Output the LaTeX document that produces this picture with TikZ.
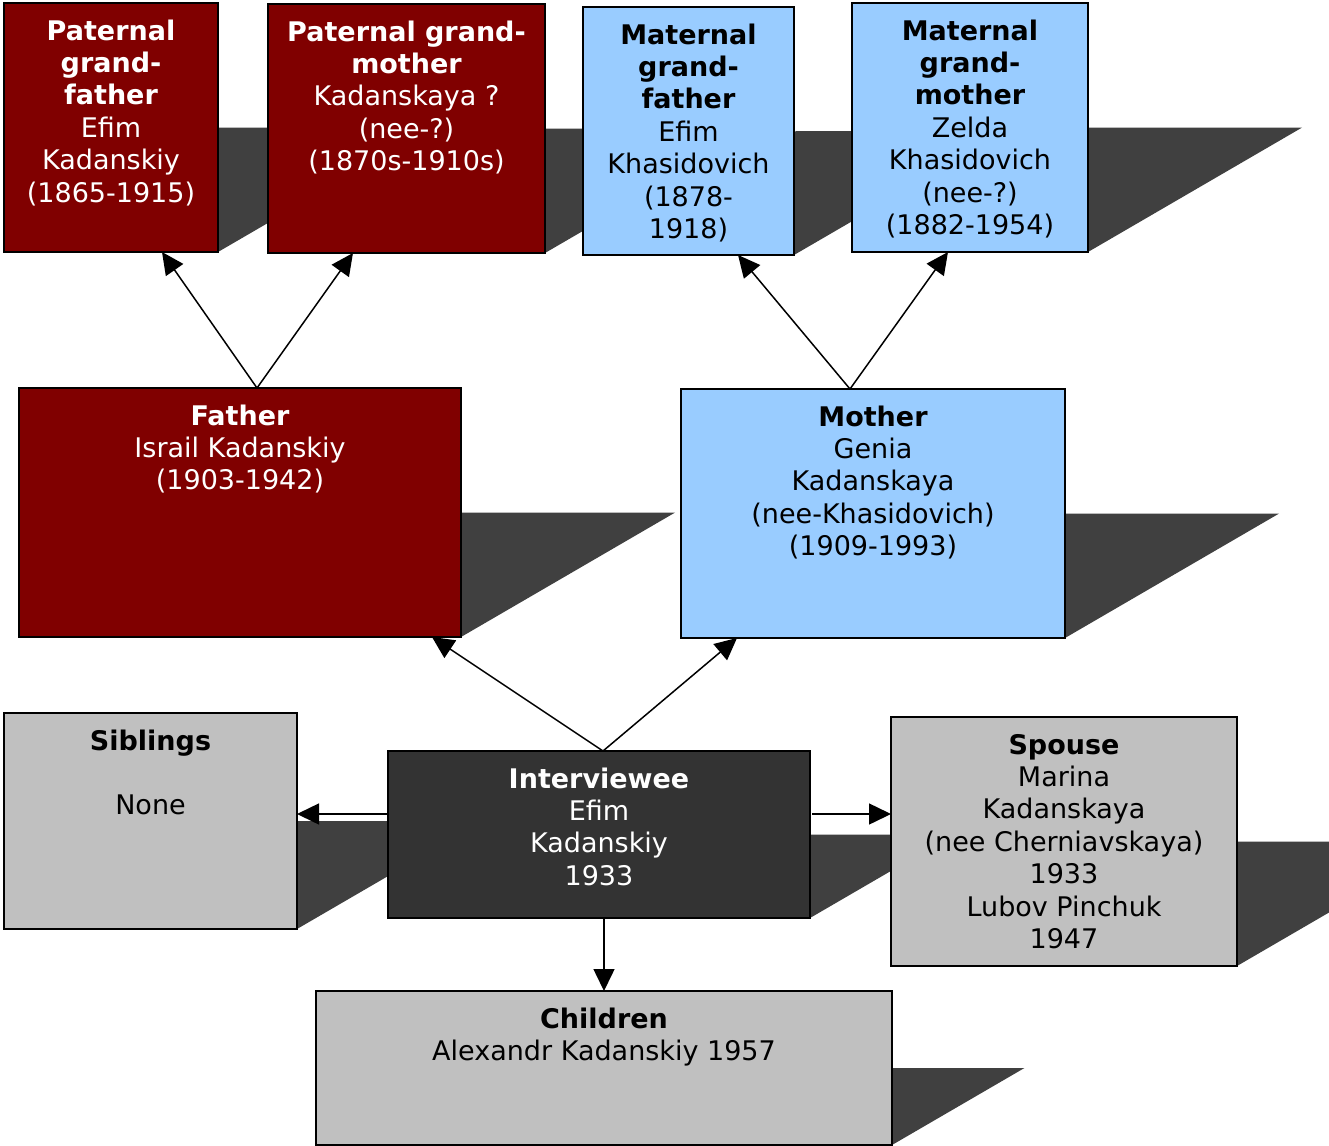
\documentclass[tikz,border=0pt]{standalone}
\usepackage{fontspec}
\setmainfont{DejaVu Sans}
\usetikzlibrary{arrows.meta,backgrounds,calc}
\definecolor{maroonc}{HTML}{800000}
\definecolor{bluec}{HTML}{99CCFF}
\definecolor{grayc}{HTML}{C0C0C0}
\definecolor{darkc}{HTML}{333333}
\definecolor{shadowc}{HTML}{404040}
\tikzset{
  boxst/.style={draw=black, line width=0.75pt, anchor=north west, inner sep=0pt, outer sep=0pt},
  patbox/.style={boxst, fill=maroonc},
  matbox/.style={boxst, fill=bluec},
  grybox/.style={boxst, fill=grayc},
  drkbox/.style={boxst, fill=darkc},
  txt/.style={anchor=north, inner sep=0pt, align=center, font=\fontsize{13.5}{16.2}\selectfont},
  wtxt/.style={txt, text=white},
  arr/.style={line width=0.75pt, -{Triangle[length=11pt,width=10.5pt]}},
  shd/.style={fill=shadowc, draw=none}
}
\newcommand\shadowof[1]{%
  \path[shd] let \p1=(#1.south west), \p2=(#1.north east), \n1={0.86*(\y2-\y1)} in
    (\x1,\y1) -- (\x2,\y1) -- (\x2+\n1,{(\y1+\y2)/2}) -- (\x1+\n1,{(\y1+\y2)/2}) -- cycle;}
\begin{document}
\begin{tikzpicture}[x=0.5pt,y=-0.5pt]
\useasboundingbox (0,0) rectangle (1329,1146);
% boxes
\node[patbox, minimum width=107pt, minimum height=124.5pt] (pgf) at (4,3) {};
\node[patbox, minimum width=138.5pt, minimum height=124.5pt] (pgm) at (268,4) {};
\node[matbox, minimum width=105.5pt, minimum height=124pt] (mgf) at (583,7) {};
\node[matbox, minimum width=118pt, minimum height=124.5pt] (mgm) at (852,3) {};
\node[patbox, minimum width=221pt, minimum height=124.5pt] (father) at (19,388) {};
\node[matbox, minimum width=192pt, minimum height=124.5pt] (mother) at (681,389) {};
\node[grybox, minimum width=146.5pt, minimum height=108pt] (sib) at (4,713) {};
\node[drkbox, minimum width=211pt, minimum height=83.5pt] (intv) at (388,751) {};
\node[grybox, minimum width=173pt, minimum height=124.5pt] (spouse) at (891,717) {};
\node[grybox, minimum width=288pt, minimum height=77pt] (child) at (316,991) {};
% shadows
\begin{scope}[on background layer]
\fill[white] (0,0) rectangle (1329,1146);
\clip (0,0) rectangle (1329,1146);
\shadowof{pgf}\shadowof{pgm}\shadowof{mgf}\shadowof{mgm}
\shadowof{father}\shadowof{mother}
\shadowof{sib}\shadowof{intv}\shadowof{spouse}\shadowof{child}
\end{scope}
% texts
\node[wtxt] (pgf-t) at ($(pgf.north)+(0,14)$) {\strut\textbf{Paternal}\\\textbf{grand-}\\\textbf{father}\\Efim\\Kadanskiy\\(1865-1915)};
\node[wtxt] (pgm-t) at ($(pgm.north)+(0,14)$) {\strut\textbf{Paternal grand-}\\\textbf{mother}\\Kadanskaya ?\\(nee-?)\\(1870s-1910s)};
\node[txt] (mgf-t) at ($(mgf.north)+(0,14)$) {\strut\textbf{Maternal}\\\textbf{grand-}\\\textbf{father}\\Efim\\Khasidovich\\(1878-\\1918)};
\node[txt] (mgm-t) at ($(mgm.north)+(0,14)$) {\strut\textbf{Maternal}\\\textbf{grand-}\\\textbf{mother}\\Zelda\\Khasidovich\\(nee-?)\\(1882-1954)};
\node[wtxt] (father-t) at ($(father.north)+(0,14)$) {\strut\textbf{Father}\\Israil Kadanskiy\\(1903-1942)};
\node[txt] (mother-t) at ($(mother.north)+(0,14)$) {\strut\textbf{Mother}\\Genia\\Kadanskaya\\(nee-Khasidovich)\\(1909-1993)};
\node[txt] (sib-t) at ($(sib.north)+(0,14)$) {\strut\textbf{Siblings}\\\strut\\None};
\node[wtxt] (intv-t) at ($(intv.north)+(0,14)$) {\strut\textbf{Interviewee}\\Efim\\Kadanskiy\\1933};
\node[txt] (spouse-t) at ($(spouse.north)+(0,14)$) {\strut\textbf{Spouse}\\Marina\\Kadanskaya\\(nee Cherniavskaya)\\1933\\Lubov Pinchuk\\1947};
\node[txt] (child-t) at ($(child.north)+(0,14)$) {\strut\textbf{Children}\\Alexandr Kadanskiy 1957};
% junctions
\coordinate (fj) at (father.north -| 257,0);
\coordinate (mj) at (mother.north -| 850,0);
\coordinate (ij) at (intv.north -| 603,0);
% connectors
\draw[arr] (fj) -- (pgf.south -| 162,0);
\draw[arr] (fj) -- (pgm.south -| 353,0);
\draw[arr] (mj) -- (mgf.south -| 738,0);
\draw[arr] (mj) -- (mgm.south -| 948,0);
\draw[arr] (ij) -- (father.south -| 432,0);
\draw[arr] (ij) -- (mother.south -| 737,0);
\draw[arr] (intv.west |- 0,814) -- (sib.east |- 0,814);
\draw[arr] (812,814) -- (spouse.west |- 0,814);
\draw[arr] (intv.south -| 604,0) -- (child.north -| 604,0);
\end{tikzpicture}
\end{document}
